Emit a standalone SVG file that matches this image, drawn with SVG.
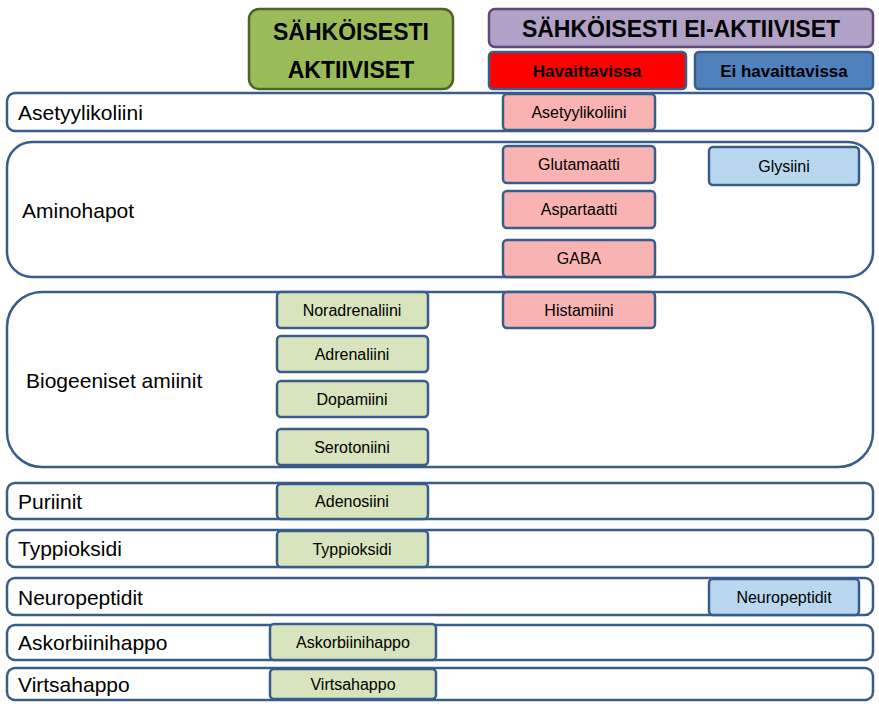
<svg xmlns="http://www.w3.org/2000/svg" width="879" height="716" viewBox="0 0 879 716">
<style>
text{font-family:"Liberation Sans",Arial,sans-serif}
.row{fill:#fff;stroke:#385d8a;stroke-width:2.5}
.rl{font-size:21px;fill:#000}
.b{stroke:#385d8a;stroke-width:2.5}
.p{fill:#f9b3b3}.g{fill:#d7e4bd}.c{fill:#b9d7ee}
.s{font-size:16px;text-anchor:middle;fill:#000}
.h{font-weight:bold;text-anchor:middle;fill:#000}
</style>
<rect width="879" height="716" fill="#fff"/>
<g id="hdr-active"><rect x="249" y="9" width="204" height="80" rx="10" fill="#9bbb59" stroke="#4f6228" stroke-width="2.5"/>
<text class="h" x="351" y="40" font-size="23">SÄHKÖISESTI</text><text class="h" x="351" y="78" font-size="23">AKTIIVISET</text></g>
<g id="hdr-inactive"><rect x="489" y="9" width="384" height="38" rx="6" fill="#b3a2c7" stroke="#5f497a" stroke-width="2.5"/>
<text class="h" x="681" y="37" font-size="23">SÄHKÖISESTI EI-AKTIIVISET</text></g>
<g id="hdr-obs"><rect x="489" y="52" width="197" height="37" rx="4" fill="#ff0000" stroke="#385d8a" stroke-width="2.5"/>
<text class="h" x="587" y="77" font-size="17">Havaittavissa</text></g>
<g id="hdr-nobs"><rect x="695" y="52" width="178" height="37" rx="4" fill="#4f81bd" stroke="#385d8a" stroke-width="2.5"/>
<text class="h" x="784" y="77" font-size="17">Ei havaittavissa</text></g>
<g id="rows">
<rect class="row" x="7" y="93" width="866" height="38" rx="8"/><text class="rl" x="18" y="120">Asetyylikoliini</text>
<rect class="row" x="7" y="142" width="866" height="135" rx="25"/><text class="rl" x="22" y="218">Aminohapot</text>
<rect class="row" x="7" y="292" width="866" height="175" rx="35"/><text class="rl" x="26" y="388">Biogeeniset amiinit</text>
<rect class="row" x="7" y="483" width="866" height="36" rx="8"/><text class="rl" x="18" y="509">Puriinit</text>
<rect class="row" x="7" y="530" width="866" height="37" rx="8"/><text class="rl" x="18" y="556">Typpioksidi</text>
<rect class="row" x="7" y="578" width="866" height="37" rx="8"/><text class="rl" x="18" y="605">Neuropeptidit</text>
<rect class="row" x="7" y="625" width="866" height="35" rx="8"/><text class="rl" x="18" y="650">Askorbiinihappo</text>
<rect class="row" x="7" y="668" width="866" height="32" rx="8"/><text class="rl" x="18" y="692">Virtsahappo</text>
</g>
<g id="n-ach"><rect class="b p" x="503" y="94" width="152" height="36" rx="4"/><text class="s" x="579" y="118">Asetyylikoliini</text></g>
<g id="n-glu"><rect class="b p" x="503" y="146" width="152" height="37" rx="4"/><text class="s" x="579" y="170">Glutamaatti</text></g>
<g id="n-asp"><rect class="b p" x="503" y="191" width="152" height="37" rx="4"/><text class="s" x="579" y="215">Aspartaatti</text></g>
<g id="n-gaba"><rect class="b p" x="503" y="240" width="152" height="37" rx="4"/><text class="s" x="579" y="264">GABA</text></g>
<g id="n-his"><rect class="b p" x="503" y="292" width="152" height="36" rx="4"/><text class="s" x="579" y="316">Histamiini</text></g>
<g id="n-gly"><rect class="b c" x="709" y="147" width="150" height="38" rx="4"/><text class="s" x="784" y="172">Glysiini</text></g>
<g id="n-nor"><rect class="b g" x="277" y="292" width="151" height="36" rx="4"/><text class="s" x="352" y="316">Noradrenaliini</text></g>
<g id="n-adr"><rect class="b g" x="277" y="336" width="151" height="36" rx="4"/><text class="s" x="352" y="360">Adrenaliini</text></g>
<g id="n-dop"><rect class="b g" x="277" y="381" width="151" height="36" rx="4"/><text class="s" x="352" y="405">Dopamiini</text></g>
<g id="n-ser"><rect class="b g" x="277" y="429" width="151" height="36" rx="4"/><text class="s" x="352" y="453">Serotoniini</text></g>
<g id="n-ade"><rect class="b g" x="277" y="484" width="151" height="35" rx="4"/><text class="s" x="352" y="507">Adenosiini</text></g>
<g id="n-no"><rect class="b g" x="277" y="531" width="151" height="36" rx="4"/><text class="s" x="352" y="555">Typpioksidi</text></g>
<g id="n-npep"><rect class="b c" x="709" y="579" width="150" height="36" rx="4"/><text class="s" x="784" y="603">Neuropeptidit</text></g>
<g id="n-asc"><rect class="b g" x="270" y="624" width="166" height="36" rx="4"/><text class="s" x="353" y="648">Askorbiinihappo</text></g>
<g id="n-uric"><rect class="b g" x="270" y="669" width="166" height="30" rx="4"/><text class="s" x="353" y="690">Virtsahappo</text></g>
<g id="connectors"/>
</svg>
